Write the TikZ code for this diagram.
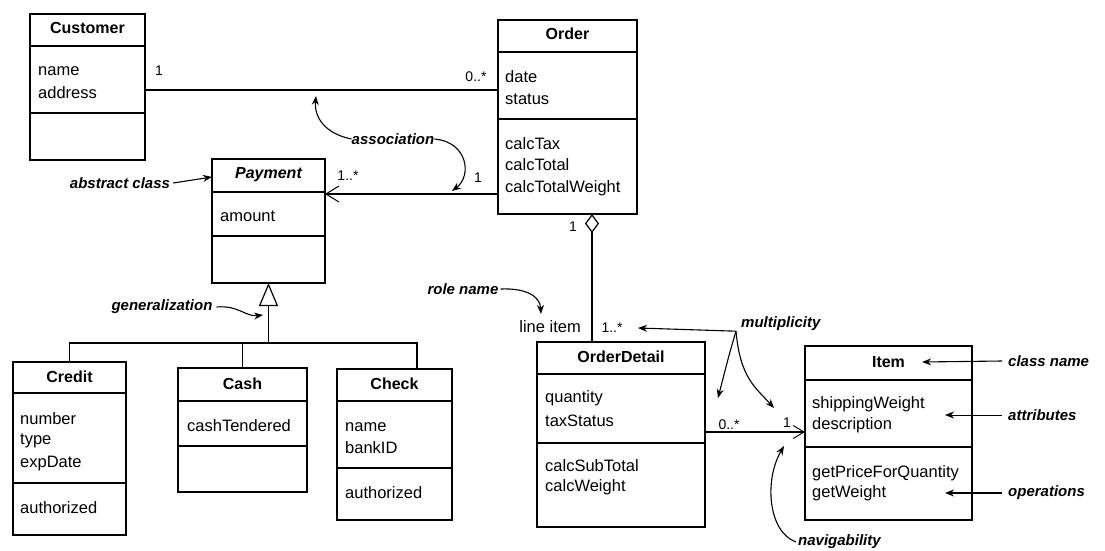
\documentclass[tikz,border=0pt]{standalone}
\usepackage{fontspec}
\setmainfont{Liberation Sans}
\usetikzlibrary{arrows.meta}
\newcommand{\umlbox}[7]{%
  \node[cls, minimum width=#4pt, minimum height=#5pt] (#1) at (#2,#3) {};
  \draw[conn] (#1.north west) ++(0,#6) -- ++(#4,0);
  \draw[conn] (#1.north west) ++(0,#7) -- ++(#4,0);
}
\begin{document}
\begin{tikzpicture}[x=1pt,y=-1pt,
  cls/.style={draw, line width=1.2pt, anchor=north west, inner sep=0pt, outer sep=0pt},
  conn/.style={line width=1.2pt},
  ttl/.style={inner sep=0pt, font=\fontsize{16}{18}\selectfont\bfseries},
  txt/.style={anchor=west, inner sep=0pt, font=\fontsize{16.5}{19}\selectfont},
  mult/.style={inner sep=0pt, font=\fontsize{14}{16}\selectfont},
  note/.style={inner sep=0pt, font=\fontsize{15}{17}\selectfont\bfseries\itshape},
  notearrow/.style={line width=1.1pt, -{Stealth[length=9pt,width=7pt]}},
  barb/.style={-{Straight Barb[length=13pt,width=16pt,line width=1pt]}}
]
\useasboundingbox (0,0) rectangle (1105,551);

% ---------- classes ----------
\umlbox{customer}{30}{14}{115}{146}{32}{99}
\node[ttl] (customer-t) at (87.5,28) {Customer};
\node[txt] (customer-a1) at (38,71) {name};
\node[txt] (customer-a2) at (38,93) {address};

\umlbox{order}{498}{20}{139}{194}{32}{99}
\node[ttl] (order-t) at (567.5,34) {Order};
\node[txt] (order-a1) at (505,77) {date};
\node[txt] (order-a2) at (505,99) {status};
\node[txt] (order-o1) at (505,144) {calcTax};
\node[txt] (order-o2) at (505,165) {calcTotal};
\node[txt] (order-o3) at (505,188) {calcTotalWeight};

\umlbox{payment}{212}{159}{113}{124}{33}{77}
\node[ttl, font=\fontsize{16}{18}\selectfont\bfseries\itshape] (payment-t) at (268.5,175) {Payment};
\node[txt] (payment-a1) at (220,216) {amount};

\umlbox{credit}{13}{362}{113}{173}{31}{121}
\node[ttl] (credit-t) at (69.5,377) {Credit};
\node[txt] (credit-a1) at (20,419) {number};
\node[txt] (credit-a2) at (20,441) {type};
\node[txt] (credit-a3) at (20,464) {expDate};
\node[txt] (credit-o1) at (20,508) {authorized};

\umlbox{cash}{178}{368}{129}{124}{33}{78}
\node[ttl] (cash-t) at (242.5,384) {Cash};
\node[txt] (cash-a1) at (187,426) {cashTendered};

\umlbox{check}{337}{369}{115}{151}{32}{99}
\node[ttl] (check-t) at (394.5,384) {Check};
\node[txt] (check-a1) at (345,427) {name};
\node[txt] (check-a2) at (345,448) {bankID};
\node[txt] (check-o1) at (345,493) {authorized};

\umlbox{orderdetail}{537}{342}{168}{185}{32}{101}
\node[ttl] (orderdetail-t) at (621,357) {OrderDetail};
\node[txt] (orderdetail-a1) at (545,398) {quantity};
\node[txt] (orderdetail-a2) at (545,421) {taxStatus};
\node[txt] (orderdetail-o1) at (545,466) {calcSubTotal};
\node[txt] (orderdetail-o2) at (545,487) {calcWeight};

\umlbox{item}{805}{346}{167}{174}{34}{101}
\node[ttl] (item-t) at (888.5,362) {Item};
\node[txt] (item-a1) at (812,404) {shippingWeight};
\node[txt] (item-a2) at (812,425) {description};
\node[txt] (item-o1) at (812,473) {getPriceForQuantity};
\node[txt] (item-o2) at (812,493) {getWeight};

% ---------- connectors ----------
\draw[conn] (customer.north east) ++(0,76) coordinate (ca) -- (ca -| order.west);
\draw[conn, barb] (order.north west) ++(0,174) coordinate (op) -- (op -| payment.east);

\path (payment.south) ++(0,60) coordinate (gb);
\path (check.north west) ++(80,0) coordinate (chkt);
\draw[conn, -{Triangle[open,length=23pt,width=19pt,line width=1.2pt]}] (gb) -- (payment.south);
\draw[conn] (credit.north) -- (credit.north |- gb) -- (chkt |- gb) -- (chkt);
\draw[conn] (cash.north) -- (cash.north |- gb);

\path (order.south west) ++(94,0) coordinate (agg);
\draw[conn, {Diamond[open,length=19pt,width=14pt,line width=1.2pt]}-] (agg) -- (agg |- orderdetail.north);

\path (orderdetail.north east) ++(0,90) coordinate (oi);
\draw[conn, -{Straight Barb[length=11pt,width=13pt,line width=0.9pt]}] (oi) -- (oi -| item.west);

% ---------- multiplicities / roles ----------
\node[mult] (m1) at (159,71) {1};
\node[mult] (m2) at (476,77) {0..*};
\node[mult] (m3) at (348,176) {1..*};
\node[mult] (m4) at (478,178) {1};
\node[mult] (m5) at (573,227) {1};
\node[txt, anchor=east] (role) at (581,327) {line item};
\node[mult] (m6) at (612,328) {1..*};
\node[mult] (m7) at (729,425) {0..*};
\node[mult] (m8) at (787,423) {1};

% ---------- annotations ----------
\coordinate (assoctip1) at (316,96);
\coordinate (assoctip2) at (452,191);
\node[note] (nassoc) at (393,139) {association};
\draw[notearrow] (nassoc.west) .. controls (326,134) and (314,118) .. (assoctip1);
\draw[notearrow] (nassoc.east) .. controls (468,142) and (472,176) .. (assoctip2);

\node[note] (nabs) at (120,183) {abstract class};
\path (payment.north west) ++(0,18) coordinate (pabs);
\draw[notearrow] ([xshift=3pt]nabs.east) -- (pabs);

\coordinate (gentip) at (263,315);
\node[note] (ngen) at (162,307) {generalization};
\draw[notearrow] ([xshift=4pt]ngen.east) .. controls (238,305) and (246,317) .. (gentip);

\coordinate (roletip) at (541,314);
\node[note] (nrole) at (463,289) {role name};
\draw[notearrow] ([xshift=2pt]nrole.east) .. controls (526,288) and (540,296) .. (roletip);

\coordinate (mt1) at (638,328);
\coordinate (mt2) at (718,398);
\coordinate (mt3) at (774,408);
\node[note, anchor=west] (nmult) at (741,324) {multiplicity};
\draw[notearrow] ([xshift=-5pt]nmult.south west) -- (mt1);
\draw[notearrow] ([xshift=-5pt]nmult.south west) .. controls (729,355) .. (mt2);
\draw[notearrow] ([xshift=-5pt]nmult.south west) .. controls (740,378) and (756,388) .. (mt3);

\node[note, anchor=west] (ncls) at (1008,361) {class name};
\draw[notearrow] ([xshift=-6pt]ncls.west) -- ([xshift=17pt]item-t.east);

\node[note, anchor=west] (nattr) at (1008,415) {attributes};
\coordinate (attrtip) at (945,415);
\draw[notearrow, line width=0.7pt] ([xshift=-6pt]nattr.west) -- (attrtip);

\node[note, anchor=west] (nops) at (1008,493) {operations};
\coordinate (opstip) at (945,493);
\draw[notearrow] ([xshift=-6pt]nops.west) -- (opstip);

\coordinate (navtip) at (784,446);
\node[note, anchor=west] (nnav) at (798,542) {navigability};
\draw[notearrow] ([xshift=-2pt]nnav.west) .. controls (768,532) and (764,480) .. (navtip);
\end{tikzpicture}
\end{document}
